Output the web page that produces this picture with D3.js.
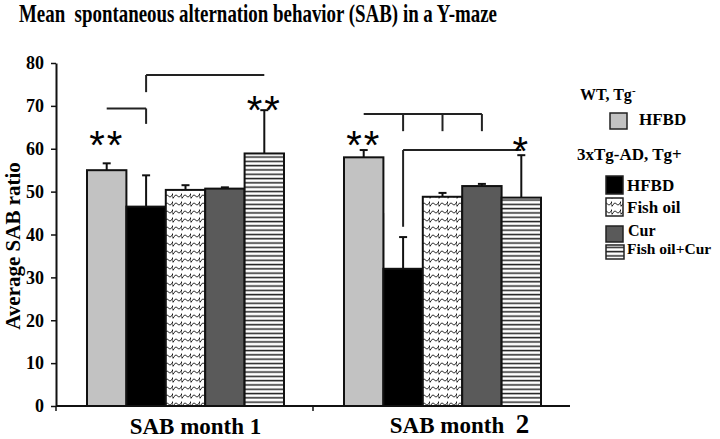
<!DOCTYPE html>
<html><head><meta charset="utf-8">
<script src="https://cdn.jsdelivr.net/npm/d3@7"></script>
<style>
body{margin:0;background:#fff}
svg{display:block}
text{font-family:"Liberation Serif","Times New Roman",serif;font-weight:bold;fill:#000}
</style></head>
<body><svg id="c" width="720" height="439"></svg>
<script>
// ---------- data ----------
const groups = ["SAB month 1", "SAB month 2"];
const series = ["WT HFBD", "Tg HFBD", "Fish oil", "Cur", "Fish oil+Cur"];
const month1Means = [55.0, 46.5, 50.4, 50.7, 58.9];
const month1Errors = [1.6, 7.3, 1.1, 0.3, 10.1];
const month2Means = [58.0, 32.0, 48.8, 51.3, 48.6];
const month2Errors = [1.7, 7.4, 0.9, 0.5, 9.9];
const yTicks = [0, 10, 20, 30, 40, 50, 60, 70, 80];
const legendLabels = ["HFBD", "HFBD", "Fish oil", "Cur", "Fish oil+Cur"];
// significance brackets: group index, from series, to series, level, drops (series index -> bottom level)
const brackets = [
  {g: 0, from: 0, to: 1, level: 69.4, drops: [[1, 65.8]]},
  {g: 0, from: 1, to: 4, level: 77.2, drops: [[1, 73.2]]},
  {g: 1, from: 0, to: 3, level: 68.1, drops: [[1, 64.1], [2, 64.1], [3, 64.1]]},
  {g: 1, from: 1, to: 4, level: 59.7, drops: [[1, 41.8]]}
];
const stars = [
  {g: 0, s: 0, level: 63.0, text: "**"},
  {g: 0, s: 4, level: 71.2, text: "**"},
  {g: 1, s: 0, level: 63.0, text: "**"},
  {g: 1, s: 4, level: 61.6, text: "*"}
];

const means = [month1Means, month2Means];
const errors = [month1Errors, month2Errors];

// ---------- setup ----------
const svg = d3.select("#c");
const defs = svg.append("defs");

const wave = defs.append("pattern").attr("id", "wave").attr("patternUnits", "userSpaceOnUse")
  .attr("width", 9).attr("height", 8);
wave.append("rect").attr("width", 9).attr("height", 8).attr("fill", "#fff");
wave.append("path").attr("d", "M0,6.5 Q2.25,1.5 4.5,4 T9,1.5 M9,1.5 L9,6.5")
  .attr("fill", "none").attr("stroke", "#111").attr("stroke-width", 1);

const stripes = defs.append("pattern").attr("id", "stripes").attr("patternUnits", "userSpaceOnUse")
  .attr("width", 6).attr("height", 4.3);
stripes.append("rect").attr("width", 6).attr("height", 4.3).attr("fill", "#fff");
stripes.append("rect").attr("y", 1.5).attr("width", 6).attr("height", 1.5).attr("fill", "#222");

const fills = ["#c2c2c2", "#000", "url(#wave)", "#5a5a5a", "url(#stripes)"];

const x0 = d3.scaleBand().domain(groups).range([56, 570]);
const x1 = d3.scaleBand().domain(series).range([31, 228]);
const y = d3.scaleLinear().domain([0, 80]).range([406, 63]);
const cx = (g, s) => x0(groups[g]) + x1(series[s]) + x1.bandwidth() / 2;

// ---------- title ----------
svg.append("text").attr("x", 19).attr("y", 22)
  .attr("font-size", 24.5).attr("textLength", 478).attr("lengthAdjust", "spacingAndGlyphs")
  .style("white-space", "pre")
  .text("Mean  spontaneous alternation behavior (SAB) in a Y-maze");

// ---------- bars ----------
// faint outline above the low bar in month 2
const og = svg.append("g").attr("transform", `translate(${x0(groups[1])},0)`);
[x1(series[1]), x1(series[1]) + x1.bandwidth()].forEach(xx => {
  og.append("line").attr("x1", xx).attr("x2", xx).attr("y1", y(month2Means[1])).attr("y2", y(45))
    .attr("stroke", "#222").attr("stroke-width", 1.5);
});

groups.forEach((grp, gi) => {
  const g = svg.append("g").attr("transform", `translate(${x0(grp)},0)`);
  const rows = series.map((s, i) => ({s, i, v: means[gi][i], e: errors[gi][i]}));
  g.selectAll("line.err").data(rows).join("line").attr("class", "err")
    .attr("x1", d => x1(d.s) + x1.bandwidth() / 2).attr("x2", d => x1(d.s) + x1.bandwidth() / 2)
    .attr("y1", d => y(d.v)).attr("y2", d => y(d.v + d.e))
    .attr("stroke", "#111").attr("stroke-width", 2);
  g.selectAll("line.cap").data(rows).join("line").attr("class", "cap")
    .attr("x1", d => x1(d.s) + x1.bandwidth() / 2 - 4).attr("x2", d => x1(d.s) + x1.bandwidth() / 2 + 4)
    .attr("y1", d => y(d.v + d.e)).attr("y2", d => y(d.v + d.e))
    .attr("stroke", "#111").attr("stroke-width", 2);
  g.selectAll("rect.bar").data(rows).join("rect").attr("class", "bar")
    .attr("x", d => x1(d.s)).attr("width", x1.bandwidth())
    .attr("y", d => y(d.v)).attr("height", d => y(0) - y(d.v))
    .attr("fill", d => fills[d.i]).attr("stroke", "#111").attr("stroke-width", 2);
});

// ---------- axes ----------
const yAxis = svg.append("g").attr("transform", "translate(56,0)")
  .call(d3.axisLeft(y).tickValues(yTicks).tickSize(5).tickSizeOuter(0).tickPadding(7));
yAxis.select(".domain").attr("stroke", "#111").attr("stroke-width", 2);
yAxis.selectAll(".tick line").attr("stroke", "#111").attr("stroke-width", 1.5);
yAxis.selectAll(".tick text").attr("font-size", 18)
  .attr("font-family", "'Liberation Serif','Times New Roman',serif").attr("font-weight", "bold");

svg.append("line").attr("x1", x0.range()[0]).attr("x2", x0.range()[1]).attr("y1", y(0)).attr("y2", y(0))
  .attr("stroke", "#111").attr("stroke-width", 2);
svg.selectAll("line.xt").data(groups).join("line").attr("class", "xt")
  .attr("x1", d => x0(d)).attr("x2", d => x0(d)).attr("y1", y(0)).attr("y2", y(0) + 5)
  .attr("stroke", "#111").attr("stroke-width", 1.5);

// x labels
svg.append("text").attr("x", x0(groups[0]) + x0.bandwidth() / 2 + 11).attr("y", 434)
  .attr("text-anchor", "middle").attr("font-size", 23).text("SAB month 1");
const l2 = svg.append("text").attr("x", x0(groups[1]) + x0.bandwidth() / 2 + 18).attr("y", 433)
  .attr("text-anchor", "middle").attr("font-size", 23).style("white-space", "pre");
l2.append("tspan").text("SAB month  ");
l2.append("tspan").attr("font-size", 27).text("2");

// y label
svg.append("text").attr("transform", "translate(20,246) rotate(-90)")
  .attr("text-anchor", "middle").attr("font-size", 21).text("Average SAB ratio");

// ---------- brackets ----------
brackets.forEach(b => {
  svg.append("line").attr("x1", cx(b.g, b.from)).attr("x2", cx(b.g, b.to))
    .attr("y1", y(b.level)).attr("y2", y(b.level)).attr("stroke", "#222").attr("stroke-width", 2);
  b.drops.forEach(([s, bottom]) => {
    svg.append("line").attr("x1", cx(b.g, s)).attr("x2", cx(b.g, s))
      .attr("y1", y(b.level)).attr("y2", y(bottom)).attr("stroke", "#222").attr("stroke-width", 2);
  });
});

// ---------- stars ----------
svg.selectAll("text.star").data(stars).join("text").attr("class", "star")
  .attr("x", d => cx(d.g, d.s)).attr("y", d => y(d.level) + 0.57 * 40)
  .attr("text-anchor", "middle").attr("font-size", 40)
  .attr("letter-spacing", 2)
  .style("font-family", "'Liberation Sans',Arial,sans-serif").style("font-weight", "normal")
  .text(d => d.text);

// ---------- legend ----------
const t1 = svg.append("text").attr("x", 580).attr("y", 100).attr("font-size", 16);
t1.append("tspan").text("WT, Tg");
t1.append("tspan").attr("font-size", 11).attr("dy", -6).text("-");
svg.append("text").attr("x", 577).attr("y", 160).attr("font-size", 17).text("3xTg-AD, Tg+");

const legendPos = [
  {bx: 610, by: 113, bw: 17, bh: 16, tx: 639, ty: 125, fs: 17},
  {bx: 606, by: 176, bw: 17, bh: 18, tx: 627, ty: 191, fs: 17},
  {bx: 606, by: 198, bw: 17, bh: 18, tx: 627, ty: 213, fs: 17},
  {bx: 606, by: 226, bw: 17, bh: 16, tx: 628, ty: 236, fs: 16},
  {bx: 606, by: 245, bw: 18, bh: 14, tx: 627, ty: 254, fs: 15.5}
];
legendLabels.forEach((lab, i) => {
  const p = legendPos[i];
  svg.append("rect").attr("x", p.bx).attr("y", p.by).attr("width", p.bw).attr("height", p.bh)
    .attr("fill", fills[i]).attr("stroke", "#222").attr("stroke-width", 1.5);
  svg.append("text").attr("x", p.tx).attr("y", p.ty).attr("font-size", p.fs).text(lab);
});
</script></body></html>
